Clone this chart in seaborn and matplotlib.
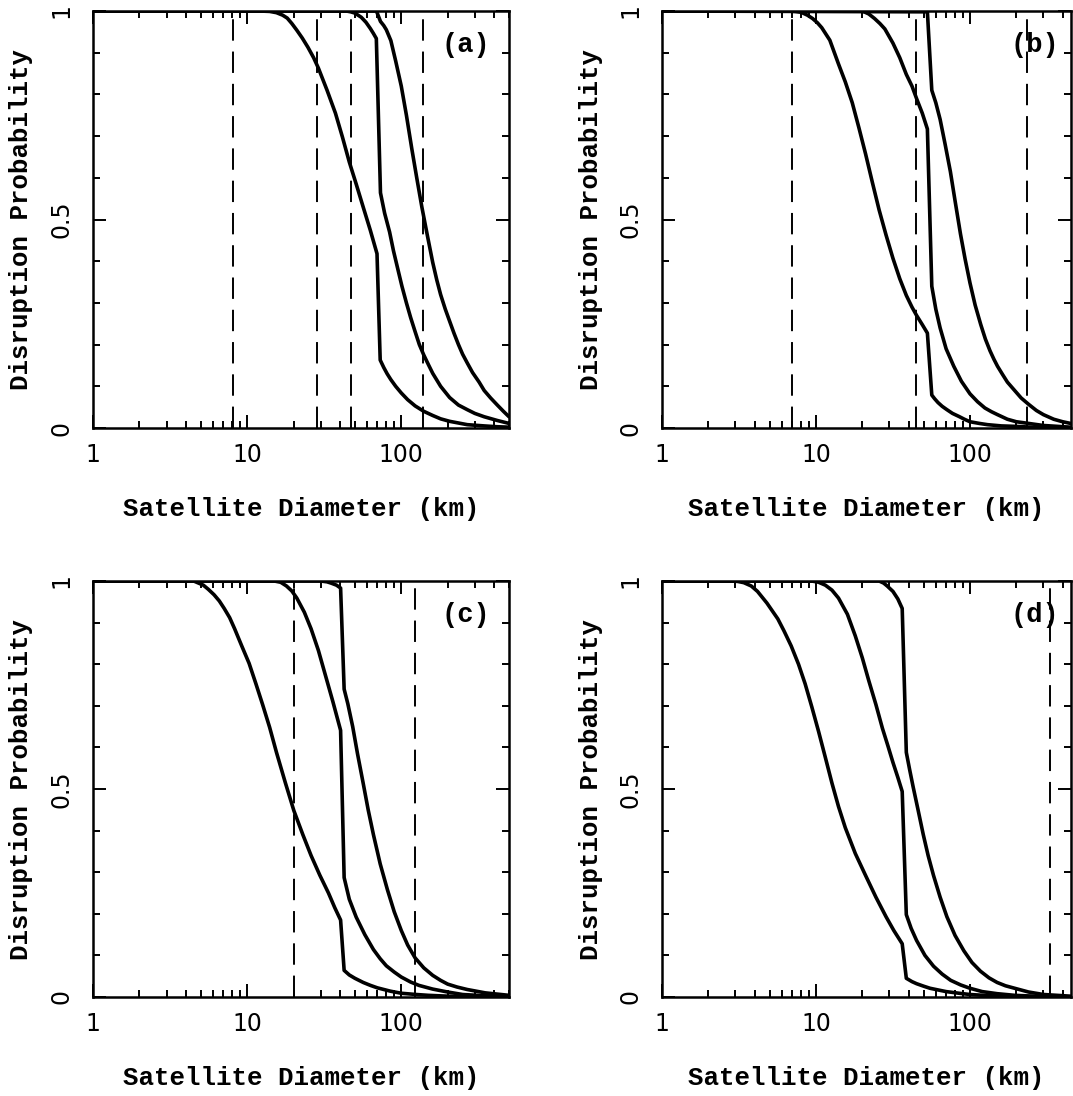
import numpy as np
import matplotlib
matplotlib.use("Agg")
import matplotlib.pyplot as plt
import matplotlib.ticker as mticker
import seaborn as sns

# -------------------------------------------------------------
# Podaci ocitani sa slike (precnik u km, verovatnoca raspada)
# -------------------------------------------------------------
# (a)
a_d1 = [1, 12, 14, 15.5, 17, 18.2, 19.5, 21, 22.8, 24.8, 27, 29, 33, 37.4, 41.5, 46, 51, 56.6, 63, 69.6,
        73, 77, 81, 85.6, 92, 100, 110, 123, 140, 160, 180, 206, 235, 268, 345, 420, 500]
a_p1 = [1, 1, 0.999, 0.996, 0.99, 0.983, 0.97, 0.954, 0.935, 0.913, 0.888, 0.863, 0.81, 0.755, 0.698, 0.638, 0.585, 0.53, 0.474, 0.418,
        0.163, 0.145, 0.13, 0.116, 0.1, 0.084, 0.068, 0.053, 0.04, 0.03, 0.022, 0.016, 0.012, 0.008, 0.005, 0.003, 0.002]
a_d2 = [1, 44, 47, 50, 55, 59, 63, 66, 68.9, 73.3, 78, 84, 89, 95, 101, 108, 115, 123, 131, 140, 150, 160,
        180, 206, 235, 268, 300, 345, 420, 500]
a_p2 = [1, 1, 0.998, 0.995, 0.985, 0.973, 0.958, 0.946, 0.934, 0.564, 0.515, 0.47, 0.425, 0.381, 0.34, 0.3, 0.265, 0.231, 0.2, 0.175, 0.152, 0.131,
        0.1, 0.073, 0.055, 0.044, 0.035, 0.027, 0.018, 0.011]
a_d3 = [1, 69, 73.3, 77, 80, 85.6, 92, 100, 108, 117, 126, 136, 148, 160, 170, 180, 193, 206, 220, 235, 250, 268,
        290, 320, 345, 380, 420, 460, 500]
a_p3 = [1, 1, 0.975, 0.965, 0.955, 0.929, 0.88, 0.82, 0.75, 0.67, 0.6, 0.53, 0.46, 0.397, 0.355, 0.32, 0.285, 0.256, 0.227, 0.2, 0.177, 0.156,
        0.133, 0.11, 0.09, 0.072, 0.055, 0.04, 0.027]
a_dash = [8.1, 28.4, 47.2, 138]

# (b)
b_d1 = [1, 6.5, 7.3, 8, 8.8, 9.5, 10.2, 10.9, 12.3, 14, 15.5, 17.2, 19, 21, 23.2, 25.7, 28.5, 31.6, 35, 38.6, 42, 45, 49, 52.9,
        56.5, 59, 62, 66, 70.8, 77, 85, 92, 100, 115, 130, 160, 195, 250, 330, 450]
b_p1 = [1, 1, 0.999, 0.997, 0.99, 0.982, 0.972, 0.96, 0.93, 0.873, 0.83, 0.78, 0.72, 0.657, 0.59, 0.523, 0.463, 0.407, 0.358, 0.318, 0.29, 0.27, 0.248, 0.2275,
        0.079, 0.07, 0.061, 0.052, 0.044, 0.035, 0.0275, 0.021, 0.015, 0.011, 0.008, 0.005, 0.004, 0.002, 0.001, 0.0005]
b_d2 = [1, 20, 22, 24, 26, 28, 31.6, 35, 38.6, 42, 45, 49, 52.9, 56.5, 60, 64, 70, 78.5, 88, 100, 112, 125, 138, 151,
        175, 200, 240, 300, 450]
b_p2 = [1, 1, 0.993, 0.982, 0.97, 0.957, 0.923, 0.888, 0.848, 0.82, 0.79, 0.755, 0.717, 0.34, 0.285, 0.24, 0.19, 0.148, 0.112, 0.082, 0.063, 0.048, 0.039, 0.032,
        0.021, 0.015, 0.011, 0.006, 0.002]
b_d3 = [1, 52.9, 56.5, 60, 64, 69, 74.6, 80, 86.8, 93, 100, 108, 117.5, 126, 135, 143, 151, 163, 175, 195, 215, 240,
        270, 300, 350, 400, 450]
b_p3 = [1, 0.998, 0.81, 0.78, 0.74, 0.68, 0.615, 0.545, 0.465, 0.405, 0.348, 0.295, 0.248, 0.213, 0.185, 0.165, 0.148, 0.128, 0.11, 0.09, 0.072, 0.057,
        0.042, 0.032, 0.021, 0.015, 0.011]
b_dash = [7.0, 44.5, 235]

# (c)
c_d1 = [1, 4.5, 5.2, 5.6, 6.1, 6.6, 7.1, 7.7, 8.3, 9.2, 10.3, 11.4, 12.6, 14, 15.5, 17.7, 20.1, 23, 26, 29.6, 33.7, 37, 40.4,
        42.6, 46, 50, 56.6, 63, 70, 85, 100, 125, 150, 200, 300, 500]
c_p1 = [1, 1, 0.99, 0.98, 0.967, 0.952, 0.934, 0.912, 0.885, 0.845, 0.802, 0.753, 0.703, 0.648, 0.588, 0.515, 0.448, 0.39, 0.34, 0.293, 0.25, 0.215, 0.185,
        0.064, 0.053, 0.045, 0.035, 0.028, 0.022, 0.014, 0.009, 0.006, 0.004, 0.002, 0.001, 0.0]
c_d2 = [1, 15, 16.5, 18, 19.5, 21, 23.5, 26, 29, 32, 36, 40.4, 42.6, 46, 51, 58, 66, 73, 80, 90, 100, 115, 130, 160,
        200, 250, 350, 500]
c_p2 = [1, 1, 0.997, 0.988, 0.976, 0.959, 0.925, 0.885, 0.833, 0.777, 0.71, 0.641, 0.287, 0.235, 0.192, 0.15, 0.114, 0.092, 0.075, 0.06, 0.048, 0.036, 0.028, 0.019,
        0.012, 0.006, 0.003, 0.001]
c_d3 = [1, 30, 33, 35, 38, 40.4, 42.6, 45, 48.4, 52, 56.6, 61, 66, 73, 81.3, 90, 100, 110, 123, 140, 160, 180, 200,
        230, 268, 350, 500]
c_p3 = [1, 1, 0.998, 0.995, 0.99, 0.983, 0.74, 0.705, 0.65, 0.585, 0.514, 0.45, 0.39, 0.32, 0.258, 0.205, 0.16, 0.125, 0.094, 0.07, 0.052, 0.04, 0.031,
        0.024, 0.018, 0.01, 0.004]
c_dash = [20.1, 123]

# (d)
d_d1 = [1, 2.8, 3.1, 3.4, 3.8, 4.17, 4.8, 5.65, 6.2, 6.9, 7.7, 8.5, 9.4, 10.4, 11.5, 12.7, 14, 15.5, 18, 21, 24.5, 28.5, 32, 36.3,
        38.6, 42, 45, 50, 55, 62, 70, 85, 100, 150, 250, 450]
d_p1 = [1, 1, 0.999, 0.996, 0.988, 0.975, 0.947, 0.909, 0.88, 0.844, 0.8, 0.753, 0.697, 0.638, 0.576, 0.514, 0.458, 0.407, 0.345, 0.292, 0.24, 0.193, 0.16, 0.128,
        0.045, 0.037, 0.032, 0.026, 0.021, 0.017, 0.013, 0.009, 0.006, 0.002, 0.001, 0.0]
d_d2 = [1, 9.4, 10.4, 11.5, 12.7, 14, 16, 18, 20, 22, 24.5, 27, 29.3, 31.6, 34, 36.3, 38.6, 41.5, 45, 51, 58, 66, 75, 87,
        100, 120, 150, 195, 300, 450]
d_p2 = [1, 1, 0.997, 0.99, 0.978, 0.959, 0.92, 0.868, 0.815, 0.761, 0.703, 0.646, 0.604, 0.564, 0.528, 0.494, 0.198, 0.165, 0.136, 0.1, 0.074, 0.055, 0.04, 0.029,
        0.021, 0.013, 0.008, 0.004, 0.001, 0.0]
d_d3 = [1, 25.7, 27.5, 29, 31.6, 34, 36.3, 38.6, 40.5, 42.7, 46, 49.7, 53.5, 58, 64, 70.8, 80, 91.3, 103, 117, 133, 150,
        170, 195, 240, 300, 450]
d_p3 = [1, 1, 0.995, 0.988, 0.975, 0.957, 0.934, 0.588, 0.548, 0.506, 0.45, 0.391, 0.34, 0.292, 0.24, 0.193, 0.148, 0.111, 0.083, 0.062, 0.046, 0.035,
        0.027, 0.021, 0.012, 0.006, 0.002]
d_dash = [332]

panel_names = ["(a)", "(b)", "(c)", "(d)"]
x_ticks = [1, 10, 100]
x_tick_labels = ["1", "10", "100"]
y_ticks = [0, 0.5, 1]
y_tick_labels = ["0", "0.5", "1"]

panels = [
    ([(a_d1, a_p1), (a_d2, a_p2), (a_d3, a_p3)], a_dash),
    ([(b_d1, b_p1), (b_d2, b_p2), (b_d3, b_p3)], b_dash),
    ([(c_d1, c_p1), (c_d2, c_p2), (c_d3, c_p3)], c_dash),
    ([(d_d1, d_p1), (d_d2, d_p2), (d_d3, d_p3)], d_dash),
]

# -------------------------------------------------------------
# Izgled
# -------------------------------------------------------------
sns.set_theme(style="ticks")
plt.rcParams["font.family"] = ["DejaVu Sans"]
plt.rcParams["axes.edgecolor"] = "black"
plt.rcParams["axes.linewidth"] = 1.8
plt.rcParams["text.color"] = "black"
plt.rcParams["axes.labelcolor"] = "black"
plt.rcParams["xtick.color"] = "black"
plt.rcParams["ytick.color"] = "black"

W, H = 1073, 1096
fig = plt.figure(figsize=(W / 100, H / 100), dpi=100)

# pozicije panela u pikselima: (levo, gore, sirina, visina, desna granica x)
boxes = [
    (93, 11, 416, 417, 500),
    (662, 11, 409, 417, 453),
    (93, 581, 416, 416, 500),
    (662, 581, 409, 416, 453),
]

mono = ["Liberation Mono", "DejaVu Sans Mono"]
label_font = dict(family=mono, weight="bold", size=18.5, color="black")

for (curves, dashes), name, (left, top, w, h, xmax) in zip(panels, panel_names, boxes):
    ax = fig.add_axes([left / W, 1 - (top + h) / H, w / W, h / H])

    for d, p in curves:
        sns.lineplot(x=d, y=p, ax=ax, color="black", lw=2.6, estimator=None, sort=False)
    for xv in dashes:
        ax.axvline(xv, color="black", lw=1.4, linestyle=(0, (11, 5.6)))

    ax.set_xscale("log")
    ax.set_xlim(1, xmax)
    ax.set_ylim(0, 1)

    ax.xaxis.set_major_locator(mticker.FixedLocator(x_ticks))
    ax.xaxis.set_major_formatter(mticker.FixedFormatter(x_tick_labels))
    ax.xaxis.set_minor_locator(mticker.LogLocator(base=10, subs=np.arange(2, 10), numticks=20))
    ax.xaxis.set_minor_formatter(mticker.NullFormatter())
    ax.yaxis.set_major_locator(mticker.FixedLocator(y_ticks))
    ax.yaxis.set_major_formatter(mticker.FixedFormatter(y_tick_labels))
    ax.yaxis.set_minor_locator(mticker.MultipleLocator(0.1))

    ax.tick_params(which="both", direction="in", top=True, right=True, width=1.4, colors="black")
    ax.tick_params(which="major", length=9.5)
    ax.tick_params(which="minor", length=5)
    ax.tick_params(axis="x", which="major", pad=11, labelsize=17)
    ax.tick_params(axis="y", which="major", pad=14, labelsize=17, labelrotation=90)
    for lab in ax.get_yticklabels():
        lab.set_verticalalignment("center")

    ax.set_xlabel("Satellite Diameter (km)", fontdict=label_font)
    ax.set_ylabel("Disruption Probability", fontdict=label_font)
    ax.xaxis.set_label_coords(0.5, -0.165)
    ax.yaxis.set_label_coords(-0.145, 0.5)

    # oznaka panela
    ax.text(373 / w, 1 - 34 / h, name, transform=ax.transAxes,
            ha="center", va="center", family=mono, weight="bold", size=19.5, color="black")

fig.savefig("out.png", dpi=100)
